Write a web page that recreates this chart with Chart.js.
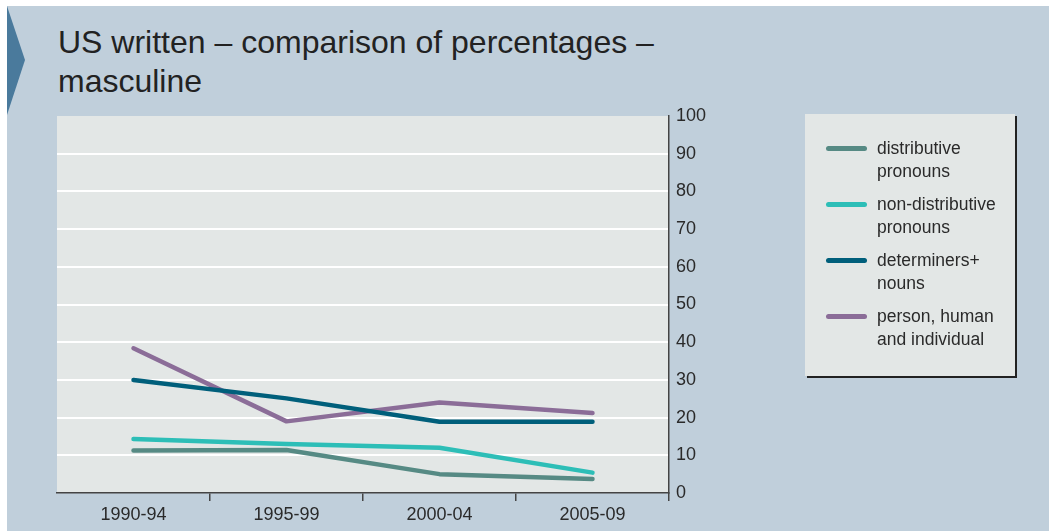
<!DOCTYPE html>
<html>
<head>
<meta charset="utf-8">
<script src="https://cdn.jsdelivr.net/npm/chart.js@4/dist/chart.umd.min.js"></script>
<style>
  body { margin: 0; background: #fff; font-family: 'Liberation Sans', Arial, sans-serif; }
  #page { position: absolute; left: 7px; top: 6px; width: 1042px; height: 525px; background: #c0cfdb; }
  #arrow { position: absolute; left: 7px; top: 6px; width: 0; height: 0;
    border-top: 54px solid transparent; border-bottom: 55px solid transparent; border-left: 18px solid #4a7a9c; }
  #title { position: absolute; left: 58px; top: 23px; font-size: 32px; line-height: 39px; color: #222; }
  #wrap { position: absolute; left: 0; top: 0; width: 1049px; height: 531px; }
  #legend { position: absolute; left: 805px; top: 114px; width: 210px; height: 262px; background: #e3e7e6;
    box-shadow: 2px 2px 0 #222; }
  .item { position: absolute; left: 72px; font-size: 17.5px; line-height: 23px; color: #2a2a2a; }
  .sw { position: absolute; left: -51px; top: 9px; width: 41px; height: 5px; border-radius: 3px; }
</style>
</head>
<body>
<div id="page"></div>
<div id="arrow"></div>
<div id="title">US written – comparison of percentages –<br>masculine</div>
<div id="wrap"><canvas id="chart" width="1049" height="531"></canvas></div>
<div id="legend"></div>
<script>
// data
const periods = ['1990-94', '1995-99', '2000-04', '2005-09'];
const seriesNames = [['distributive', 'pronouns'], ['non-distributive', 'pronouns'], ['determiners+', 'nouns'], ['person, human', 'and individual']];
const distributive = [11.3, 11.4, 5.0, 3.7];
const nonDistributive = [14.3, 13.0, 12.0, 5.4];
const determiners = [30.0, 25.1, 18.9, 18.9];
const person = [38.4, 19.0, 24.0, 21.2];
const colors = ['#568a84', '#2dbeb7', '#005f7b', '#8b6d98'];
const yTicks = [0, 10, 20, 30, 40, 50, 60, 70, 80, 90, 100];

const allValues = [distributive, nonDistributive, determiners, person];

const plotBg = {
  id: 'plotBg',
  beforeDraw(chart) {
    const { ctx, chartArea: a } = chart;
    ctx.save();
    ctx.fillStyle = '#e3e7e6';
    ctx.fillRect(a.left, a.top, a.right - a.left, a.bottom - a.top);
    ctx.restore();
  }
};

const chart = new Chart(document.getElementById('chart'), {
  type: 'line',
  data: {
    labels: periods,
    datasets: allValues.map((vals, i) => ({
      label: seriesNames[i].join(' '),
      data: vals,
      borderColor: colors[i],
      borderWidth: 4.5,
      borderCapStyle: 'round',
      borderJoinStyle: 'round',
      pointRadius: 0,
      tension: 0
    }))
  },
  options: {
    responsive: false,
    animation: false,
    layout: { padding: { left: 57, top: 116, right: 320, bottom: 0 } },
    plugins: { legend: { display: false }, tooltip: { enabled: false } },
    scales: {
      x: {
        offset: true,
        grid: {
          offset: true,
          drawOnChartArea: false,
          tickLength: 8,
          lineWidth: 1.5,
          color: (c) => (c.index === 0 || c.index === periods.length) ? 'rgba(0,0,0,0)' : '#444'
        },
        border: { color: '#444', width: 1.5 },
        ticks: { color: '#2a2a2a', font: { family: 'Liberation Sans', size: 18 }, padding: 3 },
        afterFit: (s) => { s.height = 38; }
      },
      y: {
        position: 'right',
        min: 0,
        max: 100,
        afterBuildTicks: (s) => { s.ticks = yTicks.map(v => ({ value: v })); },
        grid: {
          drawTicks: false,
          lineWidth: 2,
          color: (c) => (c.tick && (c.tick.value === 0 || c.tick.value === 100)) ? 'rgba(0,0,0,0)' : '#ffffff'
        },
        border: { color: '#444', width: 1.5 },
        ticks: { color: '#2a2a2a', font: { family: 'Liberation Sans', size: 18 }, padding: 7 },
        afterFit: (s) => { s.width = 60; }
      }
    }
  },
  plugins: [plotBg]
});

// legend built from the datasets
const legend = document.getElementById('legend');
chart.data.datasets.forEach((ds, i) => {
  const item = document.createElement('div');
  item.className = 'item';
  item.style.top = (23 + i * 56) + 'px';
  item.innerHTML = '<span class="sw" style="background:' + ds.borderColor + '"></span>' + seriesNames[i].join('<br>');
  legend.appendChild(item);
});
</script>
</body>
</html>
